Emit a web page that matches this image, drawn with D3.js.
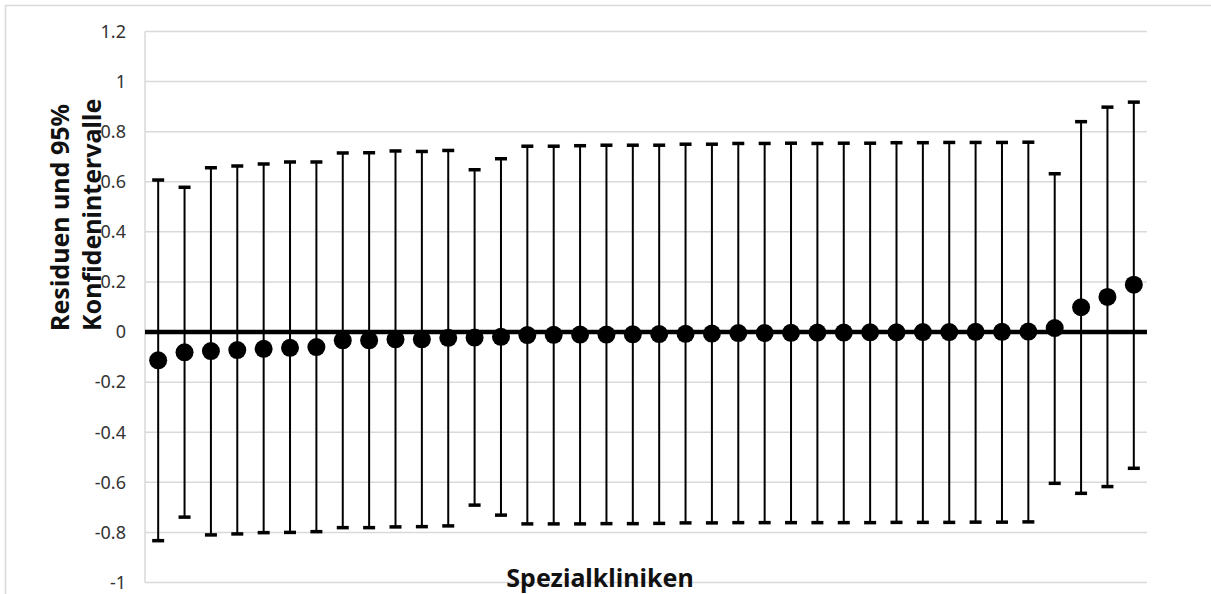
<!DOCTYPE html>
<html>

<head>
    <title>Residuen und 95% Konfidenintervalle</title>
    <script src="https://d3js.org/d3.v7.min.js"></script>
    <style>
        body {
            margin: 0;
            background: #fff;
        }

        .grid line {
            stroke: #d9d9d9;
            stroke-width: 1.5px;
        }

        .tick-label {
            font-family: "Noto Sans", sans-serif;
            font-size: 18px;
            fill: #333;
        }

        .title {
            font-family: "Noto Sans", sans-serif;
            font-size: 25px;
            font-weight: bold;
            fill: #111;
        }
    </style>
</head>

<body>
    <div id="chart"></div>
    <script>
        // Kliniken, sortiert nach Residuum
        var kliniken = d3.range(1, 39).map(function (i) { return "K" + i; });

        var residuen = [-0.113, -0.081, -0.076, -0.072, -0.067, -0.063, -0.060, -0.033, -0.033, -0.029,
            -0.029, -0.023, -0.022, -0.019, -0.012, -0.011, -0.010, -0.010, -0.009, -0.008,
            -0.007, -0.006, -0.004, -0.004, -0.003, -0.002, -0.002, -0.001, -0.001, 0.000,
            0.000, 0.001, 0.001, 0.002, 0.016, 0.099, 0.140, 0.189];

        var oberGrenze = [0.607, 0.578, 0.656, 0.663, 0.671, 0.679, 0.679, 0.715, 0.716, 0.723,
            0.721, 0.725, 0.648, 0.692, 0.742, 0.742, 0.744, 0.746, 0.746, 0.746,
            0.750, 0.750, 0.753, 0.753, 0.754, 0.753, 0.754, 0.754, 0.756, 0.756,
            0.757, 0.757, 0.757, 0.758, 0.632, 0.840, 0.898, 0.918];

        var unterGrenze = [-0.833, -0.739, -0.810, -0.806, -0.801, -0.800, -0.797, -0.781, -0.781, -0.778,
            -0.777, -0.774, -0.691, -0.731, -0.766, -0.766, -0.766, -0.765, -0.765, -0.764,
            -0.762, -0.762, -0.761, -0.761, -0.761, -0.761, -0.761, -0.761, -0.760, -0.760,
            -0.760, -0.759, -0.759, -0.758, -0.604, -0.644, -0.617, -0.544];

        var yTicks = [-1, -0.8, -0.6, -0.4, -0.2, 0, 0.2, 0.4, 0.6, 0.8, 1, 1.2];

        var W = 1211, H = 594;
        var margin = { top: 31.5, right: 64, bottom: 11.5, left: 145 };

        var svg = d3.select("#chart").append("svg")
            .attr("width", W)
            .attr("height", H);

        // outer frame of the chart area
        svg.append("path")
            .attr("d", "M5.5," + H + "V5.5H" + W)
            .style("fill", "none")
            .style("stroke", "#d9d9d9")
            .style("stroke-width", 1.5);

        var x = d3.scaleBand()
            .domain(kliniken)
            .range([margin.left, W - margin.right]);

        var y = d3.scaleLinear()
            .domain([-1, 1.2])
            .range([H - margin.bottom, margin.top]);

        // horizontal gridlines
        svg.append("g")
            .attr("class", "grid")
            .selectAll("line")
            .data(yTicks).enter()
            .append("line")
            .attr("x1", margin.left)
            .attr("x2", W - margin.right)
            .attr("y1", function (d) { return y(d); })
            .attr("y2", function (d) { return y(d); });

        // y axis line
        svg.append("line")
            .attr("x1", margin.left).attr("x2", margin.left)
            .attr("y1", y(1.2)).attr("y2", y(-1))
            .style("stroke", "#d9d9d9")
            .style("stroke-width", 1.5);

        // tick labels
        svg.append("g")
            .selectAll("text")
            .data(yTicks).enter()
            .append("text")
            .attr("class", "tick-label")
            .attr("x", margin.left - 19)
            .attr("y", function (d) { return y(d); })
            .attr("dy", "0.35em")
            .style("text-anchor", "end")
            .text(function (d) { return String(+d.toFixed(1)); });

        // zero line
        svg.append("line")
            .attr("x1", margin.left).attr("x2", W - margin.right)
            .attr("y1", y(0)).attr("y2", y(0))
            .style("stroke", "#000")
            .style("stroke-width", 4.5);

        var cx = function (i) { return x(kliniken[i]) + x.bandwidth() / 2; };

        // confidence intervals
        var ci = svg.append("g").selectAll("g")
            .data(residuen).enter()
            .append("g");

        ci.append("line")
            .attr("x1", function (d, i) { return cx(i); })
            .attr("x2", function (d, i) { return cx(i); })
            .attr("y1", function (d, i) { return y(oberGrenze[i]); })
            .attr("y2", function (d, i) { return y(unterGrenze[i]); })
            .style("stroke", "#000")
            .style("stroke-width", 2);

        ci.append("line")
            .attr("x1", function (d, i) { return cx(i) - 6; })
            .attr("x2", function (d, i) { return cx(i) + 6; })
            .attr("y1", function (d, i) { return y(oberGrenze[i]); })
            .attr("y2", function (d, i) { return y(oberGrenze[i]); })
            .style("stroke", "#000")
            .style("stroke-width", 3.5);

        ci.append("line")
            .attr("x1", function (d, i) { return cx(i) - 6; })
            .attr("x2", function (d, i) { return cx(i) + 6; })
            .attr("y1", function (d, i) { return y(unterGrenze[i]); })
            .attr("y2", function (d, i) { return y(unterGrenze[i]); })
            .style("stroke", "#000")
            .style("stroke-width", 3.5);

        // residual points
        svg.append("g").selectAll("circle")
            .data(residuen).enter()
            .append("circle")
            .attr("cx", function (d, i) { return cx(i); })
            .attr("cy", function (d) { return y(d); })
            .attr("r", 9)
            .style("fill", "#000");

        // axis titles
        var yTitle = svg.append("text")
            .attr("class", "title")
            .attr("transform", "translate(69,331) rotate(-90)")
            .style("text-anchor", "start");
        yTitle.append("tspan").attr("x", 0).attr("y", 0).text("Residuen und 95%");
        yTitle.append("tspan").attr("x", 0).attr("y", 32).text("Konfidenintervalle");

        svg.append("text")
            .attr("class", "title")
            .attr("x", 600)
            .attr("y", 587)
            .style("text-anchor", "middle")
            .text("Spezialkliniken");
    </script>
</body>

</html>
